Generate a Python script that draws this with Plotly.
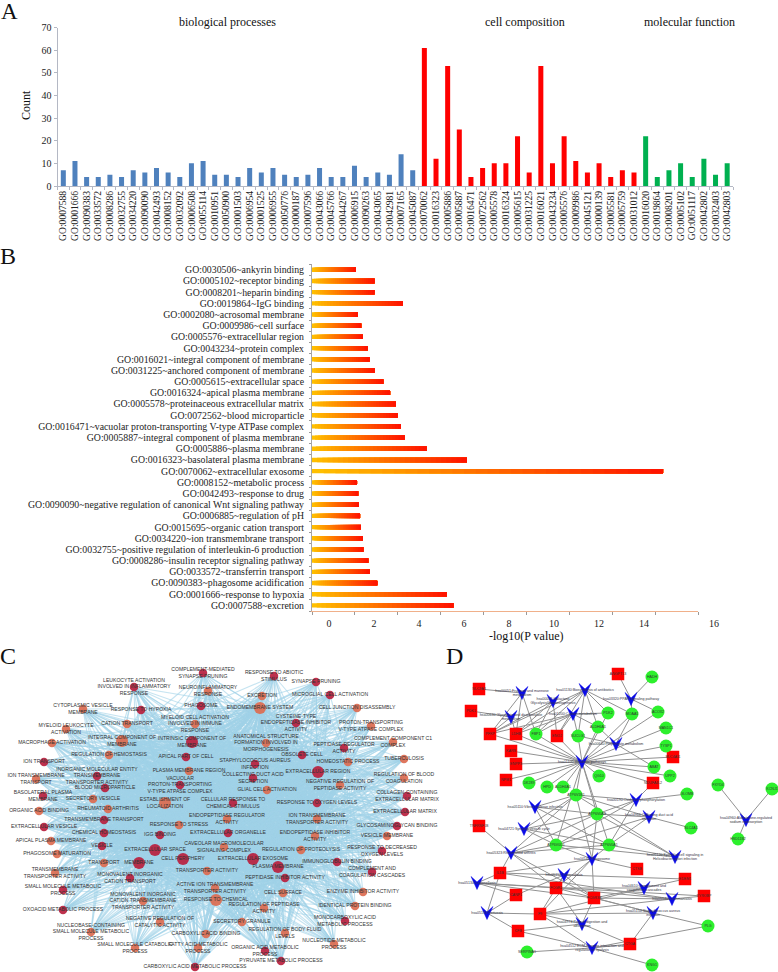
import plotly.graph_objects as go

W, H = 778, 972
SERIF = "Liberation Serif"
SANS = "Liberation Sans"

# ---------- Panel A ----------
A_BP = ["GO:0007588","GO:0001666","GO:0090383","GO:0033572","GO:0008286","GO:0032755","GO:0034220","GO:0090090",
        "GO:0042493","GO:0008152","GO:0032092","GO:0006508","GO:0055114","GO:0010951","GO:0050900","GO:0001503",
        "GO:0006954","GO:0001525","GO:0006955","GO:0050776","GO:0000187","GO:0007596","GO:0043066","GO:0045766",
        "GO:0044267","GO:0006915","GO:0090263","GO:0043065","GO:0042981","GO:0007165","GO:0045087"]
A_BP_COUNT = [7,11,4,4,5,4,7,6,8,6,4,10,11,5,5,4,8,6,8,5,4,5,8,4,4,9,4,6,5,14,7]
A_CC = ["GO:0070062","GO:0016323","GO:0005886","GO:0005887","GO:0016471","GO:0072562","GO:0005578","GO:0016324",
        "GO:0005615","GO:0031225","GO:0016021","GO:0043234","GO:0005576","GO:0009986","GO:0045121","GO:0000139",
        "GO:0005581","GO:0005759","GO:0031012"]
A_CC_COUNT = [61,12,53,25,4,8,10,10,22,6,53,10,22,11,6,10,4,7,6]
A_MF = ["GO:0016020","GO:0019864","GO:0008201","GO:0005102","GO:0051117","GO:0042802","GO:0032403","GO:0042803"]
A_MF_COUNT = [22,4,7,10,4,12,5,10]

# ---------- Panel B (bottom to top) ----------
B_TERMS = ["GO:0007588~excretion","GO:0001666~response to hypoxia","GO:0090383~phagosome acidification",
           "GO:0033572~transferrin transport","GO:0008286~insulin receptor signaling pathway",
           "GO:0032755~positive regulation of interleukin-6 production","GO:0034220~ion transmembrane transport",
           "GO:0015695~organic cation transport","GO:0006885~regulation of pH",
           "GO:0090090~negative regulation of canonical Wnt signaling pathway","GO:0042493~response to drug",
           "GO:0008152~metabolic process","GO:0070062~extracellular exosome","GO:0016323~basolateral plasma membrane",
           "GO:0005886~plasma membrane","GO:0005887~integral component of plasma membrane",
           "GO:0016471~vacuolar proton-transporting V-type ATPase complex","GO:0072562~blood microparticle",
           "GO:0005578~proteinaceous extracellular matrix","GO:0016324~apical plasma membrane",
           "GO:0005615~extracellular space","GO:0031225~anchored component of membrane",
           "GO:0016021~integral component of membrane","GO:0043234~protein complex","GO:0005576~extracellular region",
           "GO:0009986~cell surface","GO:0002080~acrosomal membrane","GO:0019864~IgG binding",
           "GO:0008201~heparin binding","GO:0005102~receptor binding","GO:0030506~ankyrin binding"]
B_VALUES = [6.59,6.28,3.04,2.70,2.62,2.39,2.37,2.28,2.24,2.18,2.15,2.10,16.37,7.22,5.34,4.32,4.15,3.99,3.91,3.64,
            3.32,2.92,2.68,2.60,2.37,2.29,2.13,4.24,2.91,2.91,2.05]
B_LABEL_VALUES = [0,2,4,6,8,10,12,14,17.11]
B_LABEL_TEXT = ["0","2","4","6","8","10","12","14","16"]

# ---------- Panel C ----------
C_NODES = [
("COMPLEMENT-MEDIATED<br>SYNAPSE PRUNING",203,673,1,0),("LEUKOCYTE ACTIVATION<br>INVOLVED IN INFLAMMATORY<br>RESPONSE",134,687,1,0),
("NEUROINFLAMMATORY<br>RESPONSE",208,691,0,0),("PHAGOSOME",201,706,1,0),("CYTOPLASMIC VESICLE<br>MEMBRANE",83,709,0,0),
("RESPONSE TO HYPOXIA",141,710,1,0),("MYELOID CELL ACTIVATION<br>INVOLVED IN IMMUNE<br>RESPONSE",195,724,0,0),
("CATION TRANSPORT",127,724,0,0),("MYELOID LEUKOCYTE<br>ACTIVATION",66,729,0,0),("INTEGRAL COMPONENT OF<br>MEMBRANE",122,741,0,1),
("INTRINSIC COMPONENT OF<br>MEMBRANE",192,742,1,1),("MACROPHAGE ACTIVATION",52,743,0,0),("REGULATION OF HEMOSTASIS",109,755,0,0),
("APICAL PART OF CELL",186,757,1,0),("ION TRANSPORT",44,762,1,0),("INORGANIC MOLECULAR ENTITY<br>TRANSMEMBRANE<br>TRANSPORTER ACTIVITY",97,776,1,0),
("PLASMA MEMBRANE REGION",189,771,0,0),("ION TRANSMEMBRANE<br>TRANSPORT",36,779,0,0),("VACUOLAR<br>PROTON-TRANSPORTING<br>V-TYPE ATPASE COMPLEX",180,785,1,0),
("BLOOD MICROPARTICLE",105,788,1,0),("BASOLATERAL PLASMA<br>MEMBRANE",43,796,1,0),("SECRETORY VESICLE",93,799,0,0),
("ESTABLISHMENT OF<br>LOCALIZATION",165,803,0,1),("CELLULAR RESPONSE TO<br>CHEMICAL STIMULUS",233,803,1,0),
("RESPONSE TO ABIOTIC<br>STIMULUS",274,676,1,0),("SYNAPSE PRUNING",316,682,1,0),("EXCRETION",262,696,0,0),
("MICROGLIAL CELL ACTIVATION",330,695,1,0),("ENDOMEMBRANE SYSTEM",260,708,0,1),("CELL JUNCTION DISASSEMBLY",357,708,0,0),
("CYSTEINE-TYPE<br>ENDOPEPTIDASE INHIBITOR<br>ACTIVITY",296,723,1,0),("PROTON-TRANSPORTING<br>V-TYPE ATPASE COMPLEX",371,726,0,0),
("ANATOMICAL STRUCTURE<br>FORMATION INVOLVED IN<br>MORPHOGENESIS",266,743,0,0),("COMPLEMENT COMPONENT C1<br>COMPLEX",393,742,0,0),
("PEPTIDASE REGULATOR<br>ACTIVITY",344,748,1,0),("OBSOLETE CELL",302,755,1,0),("TUBERCULOSIS",404,759,0,0),
("HOMEOSTATIC PROCESS",348,762,0,0),("STAPHYLOCOCCUS AUREUS<br>INFECTION",255,764,1,0),("EXTRACELLULAR REGION",318,772,1,1),
("COLLECTING DUCT ACID<br>SECRETION",253,778,1,0),("REGULATION OF BLOOD<br>COAGULATION",404,778,0,0),
("NEGATIVE REGULATION OF<br>PEPTIDASE ACTIVITY",340,785,0,0),("GLIAL CELL ACTIVATION",267,790,0,0),
("COLLAGEN-CONTAINING<br>EXTRACELLULAR MATRIX",407,796,1,0),("RESPONSE TO OXYGEN LEVELS",317,803,1,0),
("EXTRACELLULAR MATRIX",405,812,1,0),("ION TRANSMEMBRANE<br>TRANSPORTER ACTIVITY",317,819,0,0),
("ENDOPEPTIDASE REGULATOR<br>ACTIVITY",227,819,0,0),("GLYCOSAMINOGLYCAN BINDING",397,826,1,0),("EXTRACELLULAR ORGANELLE",228,833,1,0),
("ENDOPEPTIDASE INHIBITOR<br>ACTIVITY",315,836,0,0),("VESICLE MEMBRANE",387,836,0,0),("CAVEOLAR MACROMOLECULAR<br>SIGNALING COMPLEX",224,847,0,0),
("REGULATION OF PROTEOLYSIS",301,850,0,0),("RESPONSE TO DECREASED<br>OXYGEN LEVELS",382,851,1,0),("EXTRACELLULAR EXOSOME",253,859,1,1),
("IMMUNOGLOBULIN BINDING",337,862,1,0),("PLASMA MEMBRANE",278,867,1,1),("COMPLEMENT AND<br>COAGULATION CASCADES",372,872,1,0),
("PEPTIDASE INHIBITOR ACTIVITY",285,878,1,0),("ACTIVE ION TRANSMEMBRANE<br>TRANSPORTER ACTIVITY",215,888,0,0),
("ENZYME INHIBITOR ACTIVITY",363,892,0,0),("CELL SURFACE",283,893,0,0),("RESPONSE TO CHEMICAL",216,900,0,1),
("IDENTICAL PROTEIN BINDING",355,906,0,0),("REGULATION OF PEPTIDASE<br>ACTIVITY",264,908,0,0),
("MONOCARBOXYLIC ACID<br>METABOLIC PROCESS",345,921,1,0),("SECRETORY GRANULE",242,922,0,0),("REGULATION OF BODY FLUID<br>LEVELS",285,933,0,0),
("NUCLEOTIDE METABOLIC<br>PROCESS",334,944,0,0),("ORGANIC ACID METABOLIC<br>PROCESS",265,951,1,0),("PYRUVATE METABOLIC PROCESS",281,961,1,0),
("ORGANIC ACID BINDING",39,811,0,0),("RHEUMATOID ARTHRITIS",108,809,0,0),("TRANSMEMBRANE TRANSPORT",104,820,1,0),
("RESPONSE TO STRESS",179,825,0,0),("EXTRACELLULAR VESICLE",44,827,1,0),("CHEMICAL HOMEOSTASIS",104,833,1,0),("IGG BINDING",160,835,1,0),
("APICAL PLASMA MEMBRANE",51,841,0,0),("VESICLE",102,846,1,0),("EXTRACELLULAR SPACE",155,850,1,1),("PHAGOSOME MATURATION",57,854,0,0),
("CELL PERIPHERY",183,859,1,1),("TRANSPORT",104,863,0,0),("MEMBRANE",139,863,1,1),("TRANSMEMBRANE<br>TRANSPORTER ACTIVITY",55,873,0,0),
("TRANSPORTER ACTIVITY",207,871,0,0),("MONOVALENT INORGANIC<br>CATION TRANSPORT",130,878,1,0),("SMALL MOLECULE METABOLIC<br>PROCESS",63,890,1,0),
("MONOVALENT INORGANIC<br>CATION TRANSMEMBRANE<br>TRANSPORTER ACTIVITY",143,901,0,0),("OXOACID METABOLIC PROCESS",63,910,1,0),
("NEGATIVE REGULATION OF<br>CATALYTIC ACTIVITY",160,922,0,0),("NUCLEOBASE-CONTAINING<br>SMALL MOLECULE METABOLIC<br>PROCESS",91,932,0,0),
("CARBOXYLIC ACID BINDING",206,934,0,0),("SMALL MOLECULE CATABOLIC<br>PROCESS",135,948,0,0),("FATTY ACID METABOLIC<br>PROCESS",198,948,0,0),
("CARBOXYLIC ACID METABOLIC PROCESS",195,967,1,0),
]
C_HUBS = ["MEMBRANE","PLASMA MEMBRANE","EXTRACELLULAR SPACE","EXTRACELLULAR EXOSOME","CELL PERIPHERY","EXTRACELLULAR REGION",
          "ESTABLISHMENT OF<br>LOCALIZATION","RESPONSE TO CHEMICAL","ENDOMEMBRANE SYSTEM","INTRINSIC COMPONENT OF<br>MEMBRANE",
          "INTEGRAL COMPONENT OF<br>MEMBRANE","RESPONSE TO OXYGEN LEVELS","CELLULAR RESPONSE TO<br>CHEMICAL STIMULUS",
          "HOMEOSTATIC PROCESS","PLASMA MEMBRANE REGION","ION TRANSMEMBRANE<br>TRANSPORTER ACTIVITY","EXTRACELLULAR ORGANELLE",
          "STAPHYLOCOCCUS AUREUS<br>INFECTION","BLOOD MICROPARTICLE","CHEMICAL HOMEOSTASIS","REGULATION OF PROTEOLYSIS",
          "RESPONSE TO STRESS","APICAL PART OF CELL","PEPTIDASE INHIBITOR ACTIVITY"]

# ---------- Panel D ----------
D_RED = {"SLC9A3":(479,689),"PDK1":(471,711),"PFKP":(490,734),"LDHB":(516,734),"ENO2":(557,736),"ANGPTL3":(618,674),
         "KARS":(511,751),"ENPP3":(516,764),"NPM1":(506,780),"SLC4A11":(673,757),"NDUFA4L2":(653,783),"TNFRSF1B":(479,826),
         "IL1B":(500,873),"CTSB":(637,869),"EDEM1":(685,879),"TYROBP":(704,896),"CANP1":(516,895),"FCGR2":(556,888),
         "FCGR3B":(594,898),"F9":(540,914),"CFB":(518,931),"CTGA":(630,944)}
D_GREEN = {"HADH":(652,677),"PDK2":(608,713),"MOAA1":(632,714),"ACOX2":(658,712),"ALDH6A1":(598,727),"MAN1C1":(666,728),
           "FBP1":(536,734),"SUCLG1":(578,736),"TYSP1":(666,746),"ABAT":(654,767),"UPP2":(670,776),"QG10":(599,776),
           "DK289":(529,783),"HPD":(547,787),"ALDH4A1":(563,787),"ATP6V1B1":(576,795),"GLOMB":(687,794),"FXYD4":(718,785),
           "KCNJ1":(772,789),"ATP6V0A4":(597,814),"SLC4A1":(691,828),"HSD11B2":(738,839),"ATP6V0D1":(556,845),
           "ATP6V0A1":(609,845),"PLG":(708,926),"SERPINA1":(527,952),"KNG1":(652,965)}
D_PATHWAYS = {
 "v1":("hsa00051:Fructose and mannose<br>metabolism",522,693),"v2":("hsa00052:Galactose<br>Glycolysis/Gluconeogenesis",553,701),
 "v3":("hsa01130:Biosynthesis of antibiotics",585,690),"v4":("hsa03320:PPAR signaling pathway",631,699),
 "v5":("hsa00630:Glyoxylate and dicarboxylate<br>metabolism",511,717),"v6":("hsa01200:Carbon metabolism",573,714),
 "v7":("hsa00640:Propanoate metabolism",616,744),"v8":("hsa01100:Metabolic pathways",582,762),
 "v9":("hsa00190:Oxidative phosphorylation",636,800),"v10":("hsa05110:Vibrio cholerae infection",535,807),
 "v11":("hsa04966:Collecting duct acid<br>secretion",649,817),"v12":("hsa04721:Synaptic vesicle cycle",524,829),
 "v13":("hsa04960:Aldosterone-regulated<br>sodium reabsorption",746,820),"v14":("hsa05323:Rheumatoid arthritis",511,853),
 "v15":("hsa05120:Epithelial cell signaling in<br>Helicobacter pylori infection",675,857),"v16":("hsa04145:Phagosome",592,859),
 "v17":("hsa05152:Tuberculosis",564,875),"v18":("hsa05134:Legionellosis",477,883),
 "v19":("hsa04610:Complement and<br>coagulation cascades",644,888),"v20":("hsa05140:Leishmaniasis",672,899),
 "v21":("hsa05150:Staphylococcus aureus<br>infection",653,913),"v22":("hsa05133:Pertussis",487,913),
 "v23":("hsa04974:Protein digestion and<br>absorption",582,924),"v24":("hsa04512:ECM-receptor interaction and<br>regulation of lipolysis",592,948),
}
D_LINKS = {
 "v1":["PFKP","LDHB","FBP1","SLC9A3"],"v2":["PFKP","LDHB","FBP1","ENO2"],
 "v3":["PFKP","LDHB","ENO2","ALDH6A1","SUCLG1","PDK2","MOAA1","FBP1"],"v4":["ANGPTL3","HADH","MOAA1","ACOX2"],
 "v5":["PDK1","PFKP","LDHB"],"v6":["PFKP","LDHB","FBP1","ENO2","SUCLG1","PDK2","ALDH6A1"],"v7":["ALDH6A1","SUCLG1","ABAT","MOAA1"],
 "v8":["PFKP","LDHB","FBP1","ENO2","SUCLG1","KARS","ENPP3","NPM1","DK289","HPD","ALDH4A1","ATP6V1B1","QG10","ABAT","UPP2","SLC4A11",
       "TYSP1","MAN1C1","ACOX2","MOAA1","PDK2","ALDH6A1","NDUFA4L2","ATP6V0A4","ATP6V0D1","ATP6V0A1"],
 "v9":["NDUFA4L2","ATP6V1B1","GLOMB","ATP6V0A4","ATP6V0D1","ATP6V0A1"],"v10":["ATP6V1B1","ATP6V0A4","ATP6V0D1","ATP6V0A1"],
 "v11":["ATP6V1B1","ATP6V0A4","ATP6V0D1","ATP6V0A1","SLC4A1"],"v12":["ATP6V1B1","ATP6V0A4","ATP6V0D1","ATP6V0A1"],
 "v13":["FXYD4","KCNJ1","HSD11B2"],"v14":["TNFRSF1B","IL1B","ATP6V1B1","ATP6V0A4","ATP6V0D1","ATP6V0A1","FCGR2","FCGR3B"],
 "v15":["ATP6V1B1","ATP6V0A4","ATP6V0D1","ATP6V0A1"],"v16":["ATP6V1B1","ATP6V0A4","ATP6V0D1","ATP6V0A1","FCGR2","FCGR3B","CTSB","IL1B","F9"],
 "v17":["FCGR2","FCGR3B","IL1B","F9","CANP1","EDEM1"],"v18":["IL1B","FCGR2","CANP1","TYROBP","FCGR3B"],"v19":["FCGR2","FCGR3B","F9","EDEM1"],
 "v20":["IL1B","FCGR2","FCGR3B","F9","TYROBP"],"v21":["FCGR2","FCGR3B","F9","CTGA","PLG"],"v22":["IL1B","CANP1","F9","CFB"],
 "v23":["CFB","F9","FCGR2","FCGR3B","CTGA"],"v24":["CFB","F9","CTGA","SERPINA1","KNG1","PLG"],
}
D_GLYPH = [(-6,-6.5),(0,-1),(6,-6.5),(0,6.5),(-6,-6.5)]

DOM_X = lambda a, b: [a / W, b / W]
DOM_Y = lambda top, bot: [1 - bot / H, 1 - top / H]

fig = go.Figure()

# Panel A bars
A_ALL = A_BP + A_CC + A_MF
for cats, vals, col in ((A_BP, A_BP_COUNT, "#4F81BD"), (A_CC, A_CC_COUNT, "#FF0000"), (A_MF, A_MF_COUNT, "#00B050")):
    fig.add_trace(go.Bar(x=cats, y=vals, marker=dict(color=col, line_width=0), width=0.43, xaxis="x", yaxis="y", showlegend=False))

# Panel B gradient bars: painted from the left, each step overlapping the rest of the bar
SEG = 30
seg_y, seg_x, seg_base, seg_col = [], [], [], []
for term, v in zip(B_TERMS, B_VALUES):
    for k in range(SEG):
        t = k / (SEG - 1)
        seg_y.append(term)
        seg_base.append(v * k / SEG)
        seg_x.append(v - v * k / SEG)
        seg_col.append(f"rgb(255,{int(192 - 172 * t)},0)")
fig.add_trace(go.Bar(y=seg_y, x=seg_x, base=seg_base, orientation="h", width=0.39,
                     marker=dict(color=seg_col, line_width=0), xaxis="x2", yaxis="y2", showlegend=False))
fig.add_trace(go.Scatter(x=[0], y=[0], mode="markers", marker=dict(opacity=0), xaxis="x3", yaxis="y3",
                         showlegend=False, hoverinfo="skip"))

# Panel C
c_pos = {n[0]: (n[1], n[2]) for n in C_NODES}
ex, ey = [], []
for n in C_NODES:
    for h in C_HUBS:
        if h != n[0]:
            ex += [n[1], c_pos[h][0], None]
            ey += [n[2], c_pos[h][1], None]
fig.add_trace(go.Scatter(x=ex, y=ey, mode="lines", line=dict(color="rgba(160,210,232,0.6)", width=1.1),
                         xaxis="x4", yaxis="y4", showlegend=False, hoverinfo="skip"))
fig.add_trace(go.Scatter(x=[n[1] for n in C_NODES], y=[n[2] for n in C_NODES], mode="markers+text",
                         text=[n[0] for n in C_NODES], textposition="middle center",
                         textfont=dict(family=SANS, size=5.1, color="#333333"),
                         marker=dict(color=["#B8203E" if n[3] else "#DC6B50" for n in C_NODES],
                                     size=[12 if n[4] else 8.5 for n in C_NODES], opacity=0.92, line_width=0),
                         xaxis="x4", yaxis="y4", showlegend=False, hoverinfo="text"))

# Panel D
d_pos = {**D_RED, **D_GREEN}
lx, ly = [], []
for p, genes in D_LINKS.items():
    for g in genes:
        lx += [D_PATHWAYS[p][1], d_pos[g][0], None]
        ly += [D_PATHWAYS[p][2], d_pos[g][1], None]
fig.add_trace(go.Scatter(x=lx, y=ly, mode="lines", line=dict(color="#929292", width=1), xaxis="x4", yaxis="y4",
                         showlegend=False, hoverinfo="skip"))
gx, gy = [], []
for _, px, py in D_PATHWAYS.values():
    for ox, oy in D_GLYPH:
        gx.append(px + ox)
        gy.append(py + oy)
    gx.append(None)
    gy.append(None)
fig.add_trace(go.Scatter(x=gx, y=gy, mode="lines", fill="toself", fillcolor="#0A0AE8", line=dict(color="#0A0AE8", width=0.5),
                         xaxis="x4", yaxis="y4", showlegend=False, hoverinfo="skip"))
for nodes, col, sym, sz in ((D_RED, "#FF0000", "square", 12.5), (D_GREEN, "#2DF02D", "circle", 13)):
    fig.add_trace(go.Scatter(x=[v[0] for v in nodes.values()], y=[v[1] for v in nodes.values()], mode="markers+text",
                             text=list(nodes), textposition="middle center",
                             textfont=dict(family=SANS, size=3.6, color="#333333"),
                             marker=dict(color=col, size=sz, symbol=sym, line_width=0),
                             xaxis="x4", yaxis="y4", showlegend=False, hoverinfo="text"))
fig.add_trace(go.Scatter(x=[v[1] for v in D_PATHWAYS.values()], y=[v[2] for v in D_PATHWAYS.values()], mode="text",
                         text=[v[0] for v in D_PATHWAYS.values()], textposition="middle center",
                         textfont=dict(family=SANS, size=3.6, color="#333344"),
                         xaxis="x4", yaxis="y4", showlegend=False, hoverinfo="text"))

AXC = "#B4B8C4"
fig.update_layout(
    width=W, height=H, margin=dict(l=0, r=0, t=0, b=0, pad=0, autoexpand=False), paper_bgcolor="white", plot_bgcolor="rgba(0,0,0,0)",
    barmode="overlay", font=dict(family=SERIF, size=10, color="#222222"),
    xaxis=dict(domain=DOM_X(57.5, 733), categoryorder="array", categoryarray=A_ALL, type="category", tickson="boundaries",
               range=[-0.5, 57.5], tickangle=-90, ticks="outside", ticklen=3, tickcolor=AXC, linecolor=AXC, showline=True,
               showgrid=False, tickfont=dict(size=9.6, family=SERIF), anchor="y", zeroline=False, tickmode="linear", dtick=1),
    yaxis=dict(domain=DOM_Y(27.6, 186), range=[0, 70], dtick=10, ticks="outside", ticklen=3, tickcolor=AXC, linecolor=AXC,
               showline=True, showgrid=False, zeroline=False, tickfont=dict(size=10, family=SERIF), anchor="x"),
    xaxis2=dict(domain=DOM_X(312, 698), range=[0, 18], dtick=2, ticks="outside", ticklen=3, tickcolor="#999999",
                linecolor="#F0B08A", showline=True, showgrid=False, zeroline=False, showticklabels=False, anchor="y2"),
    yaxis2=dict(domain=DOM_Y(264.2, 611), type="category", categoryorder="array", categoryarray=B_TERMS, range=[-0.5, 30.5],
                tickson="boundaries", ticks="outside", ticklen=2, tickcolor="#999999", linecolor="#A6A6A6", showline=True,
                showgrid=False, zeroline=False, tickfont=dict(size=9.82, family=SERIF), anchor="x2", tickmode="linear", dtick=1,
                ticklabelstandoff=5),
    xaxis3=dict(domain=DOM_X(312, 730), range=[-0.757, 17.82], tickmode="array", tickvals=B_LABEL_VALUES, ticktext=B_LABEL_TEXT,
                ticks="outside", ticklen=3, tickcolor="rgba(0,0,0,0)", showline=False, showgrid=False, zeroline=False,
                tickfont=dict(size=10, family=SERIF), anchor="y3"),
    yaxis3=dict(domain=DOM_Y(264.2, 611), visible=False, range=[0, 1], anchor="x3"),
    xaxis4=dict(domain=[0, 1], range=[0, W], visible=False, anchor="y4"),
    yaxis4=dict(domain=[0, 1], range=[H, 0], visible=False, anchor="x4"),
)

def note(text, x, y, size, angle=0):
    fig.add_annotation(text=text, x=x, y=y, xref="x4", yref="y4", showarrow=False, textangle=angle,
                       font=dict(family=SERIF, size=size, color="#111111"), xanchor="center", yanchor="middle")

for t, x, y, s in (("A", 9, 11, 23), ("B", 8, 256, 24), ("C", 8, 656, 24), ("D", 454, 656, 24),
                   ("biological processes", 227, 22, 12), ("cell composition", 525, 22, 12), ("molecular function", 689, 22, 12),
                   ("-log10(P value)", 526, 636, 12)):
    note(t, x, y, s)
note("Count", 26, 105, 12, -90)

fig.write_html("out.html", config={"displayModeBar": False}, post_script="document.body.style.margin='0';")
